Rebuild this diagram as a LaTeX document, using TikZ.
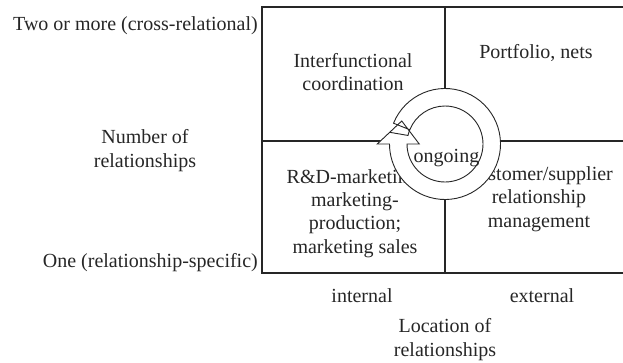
\documentclass[tikz,border=0pt]{standalone}
\usepackage{fontspec}
\setmainfont{Liberation Serif}
\usetikzlibrary{calc}

\begin{document}
\begin{tikzpicture}[x=1pt, y=1pt,
    txt/.style={font=\fontsize{20}{23.3}\selectfont, align=center, anchor=base, inner sep=0pt, text=black!85},
    grid/.style={draw=black!85, line width=1.3pt},
    ring/.style={draw=black!85, fill=white, line width=0.9pt}]

    \useasboundingbox (0,0) rectangle (623,362);
    % the four cells
    \coordinate (C) at (445,218);
    \draw[grid] (262,89) rectangle (625,355);
    \draw[grid] (445,89) -- (445,355);
    \draw[grid] (262,221) -- (625,221);

    % axis labels (base = last line)
    \node[txt, anchor=base east] (two) at (258,331) {Two or more (cross-relational)};
    \node[txt] (num) at (145,195) {Number of\\relationships};
    \node[txt, anchor=base east] (one) at (258,95) {One (relationship-specific)};
    \node[txt] (int) at (362,60) {internal};
    \node[txt] (ext) at (542,60) {external};
    \node[txt] (loc) at (445,6) {Location of\\relationships};

    % cell texts
    \node[txt] (coord) at (353,271) {Interfunctional\\coordination};
    \node[txt] (port) at (536,303) {Portfolio, nets};
    \node[txt] (rnd) at (355,109) {R\&D-marketing;\\marketing-\\production;\\marketing sales};
    \node[txt] (cust) at (539,135) {Customer/supplier\\relationship\\management};

    % circular arrow
    \fill[white] (C) circle (55.5);
    \draw[ring] ($(C)+(158:55.5)$) arc[start angle=158, end angle=-180, radius=55.5]
        -- ($(C)+(180:67.75)$) -- ($(C)+(152:49)$) -- ($(C)+(180:25.75)$)
        -- ($(C)+(180:38)$) arc[start angle=180, end angle=518, radius=38] -- cycle;
    \draw[ring, fill=none] (389.7,229.7) -- ($(C)+(167:38)$) arc[start angle=167, end angle=158, radius=38];
    \node[txt] (ong) at (446.5,200) {ongoing};
\end{tikzpicture}
\end{document}
